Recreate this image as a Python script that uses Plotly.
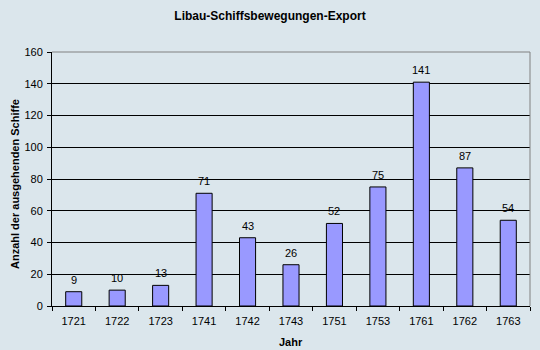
import plotly.graph_objects as go

years = ["1721", "1722", "1723", "1741", "1742", "1743", "1751", "1753", "1761", "1762", "1763"]
ships = [9, 10, 13, 71, 43, 26, 52, 75, 141, 87, 54]
y_ticks = [0, 20, 40, 60, 80, 100, 120, 140, 160]

bg = "#DBE6EC"
font = "Liberation Sans, Arial, sans-serif"

fig = go.Figure()
fig.add_trace(go.Bar(
    x=years, y=ships,
    marker=dict(color="#9999FF", line=dict(color="#000000", width=1)),
    width=0.37,
    hoverinfo="skip",
))
# category positions are the index of each year on the category axis
for i, v in enumerate(ships):
    fig.add_annotation(x=i, y=v, xref="x", yref="y", text=str(v), showarrow=False,
                       yanchor="bottom", yshift=4,
                       font=dict(family=font, size=11, color="#000000"))

fig.update_layout(
    width=540, height=350,
    margin=dict(l=52, r=10, t=52, b=44, autoexpand=False),
    paper_bgcolor=bg, plot_bgcolor=bg,
    showlegend=False,
    title=dict(text="<b>Libau-Schiffsbewegungen-Export</b>", x=0.5, xref="container",
               y=0.955, yref="container", yanchor="middle",
               font=dict(family=font, size=12, color="#000000")),
    font=dict(family=font, size=11, color="#000000"),
)
fig.add_annotation(xref="paper", yref="paper", x=0.5, y=0, yanchor="middle", yshift=-36,
                   text="<b>Jahr</b>", showarrow=False,
                   font=dict(family=font, size=11, color="#000000"))
fig.add_annotation(xref="paper", yref="paper", x=0, y=0.5, xanchor="center", xshift=-37, yshift=-5,
                   text="<b>Anzahl der ausgehenden Schiffe</b>", textangle=-90, showarrow=False,
                   font=dict(family=font, size=11, color="#000000"))
fig.update_xaxes(
    type="category", categoryorder="array", categoryarray=years,
    range=[-0.5, len(years) - 0.5],
    tickson="boundaries", ticks="outside", ticklen=4, tickcolor="#000000",
    ticklabelstandoff=5,
    showline=True, linecolor="#000000", linewidth=1, showgrid=False, automargin=False,
    tickfont=dict(family=font, size=11, color="#000000"),
)
fig.update_yaxes(
    range=[0, 160], tickvals=y_ticks, ticks="outside", ticklen=4, tickcolor="#000000",
    ticklabelstandoff=2,
    showline=True, linecolor="#000000", linewidth=1, automargin=False,
    showgrid=True, gridcolor="#000000", gridwidth=1, zeroline=False,
    tickfont=dict(family=font, size=11, color="#000000"),
)
fig.add_shape(type="line", xref="paper", yref="paper", x0=0, x1=1, y0=1, y1=1,
              line=dict(color="#808080", width=1), layer="above")
fig.add_shape(type="line", xref="paper", yref="paper", x0=1, x1=1, y0=0, y1=1,
              line=dict(color="#808080", width=1), layer="above")

fig.write_html("out.html")
